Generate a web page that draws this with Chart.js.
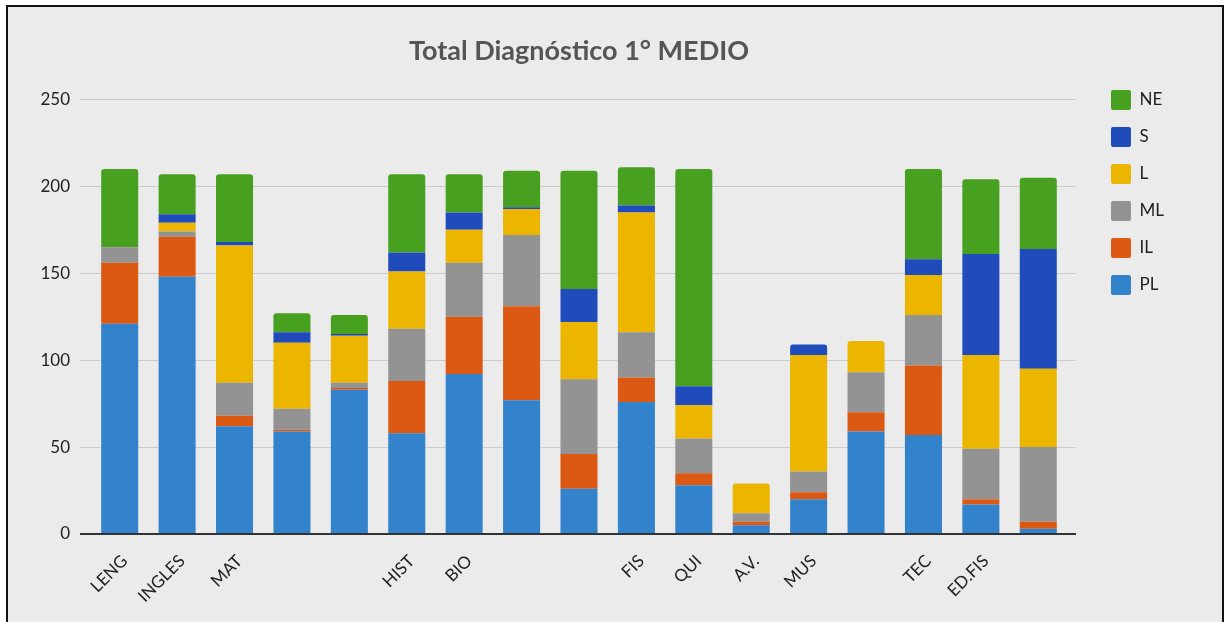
<!DOCTYPE html>
<html>
<head>
<meta charset="utf-8">
<script src="https://cdn.jsdelivr.net/npm/chart.js@4.4.1/dist/chart.umd.min.js"></script>
<style>
  html, body { margin: 0; padding: 0; background: #fff; width: 1225px; height: 622px; overflow: hidden; }
  #frame { position: absolute; left: 6px; top: 5px; width: 1214px; height: 640px;
           border: 2px solid #111; border-bottom: none; background: #ebebeb; }
  #wrap { position: absolute; left: 0; top: 0; width: 1225px; height: 622px; }
</style>
</head>
<body>
<div id="frame"></div>
<div id="wrap"><canvas id="chart"></canvas></div>
<script>
// ── Data ──────────────────────────────────────────────────────────────────────
const categories = ["LENG", "INGLES", "MAT", "", "", "HIST", "BIO", "", "", "FIS", "QUI", "A.V.", "MUS", "", "TEC", "ED.FIS", ""];
const PL = [121, 148, 62, 59, 83, 58, 92, 77, 26, 76, 28, 5, 20, 59, 57, 17, 3];
const IL = [35, 23, 6, 1, 1, 30, 33, 54, 20, 14, 7, 2, 4, 11, 40, 3, 4];
const ML = [9, 3, 19, 12, 3, 30, 31, 41, 43, 26, 20, 5, 12, 23, 29, 29, 43];
const L  = [0, 5, 79, 38, 27, 33, 19, 15, 33, 69, 19, 17, 67, 18, 23, 54, 45];
const S  = [0, 5, 2, 6, 1, 11, 10, 1, 19, 4, 11, 0, 6, 0, 9, 58, 69];
const NE = [45, 23, 39, 11, 11, 45, 22, 21, 68, 22, 125, 0, 0, 0, 52, 43, 41];
const yTicks = [0, 50, 100, 150, 200, 250];

// ── Styles ────────────────────────────────────────────────────────────────────
const FONT = "Lato";
const GRID = "#cccccc";
const BASE = "#333333";
const series = [
  { label: "PL", data: PL, color: "#3382cc" },
  { label: "IL", data: IL, color: "#dc5913" },
  { label: "ML", data: ML, color: "#939393" },
  { label: "L",  data: L,  color: "#ebb500" },
  { label: "S",  data: S,  color: "#204cbb" },
  { label: "NE", data: NE, color: "#48a021" },
];

Chart.defaults.font.family = FONT;

const gridColor = (c) => (c.tick && c.tick.value === 0 ? BASE : GRID);
const gridWidth = (c) => (c.tick && c.tick.value === 0 ? 2 : 1);

new Chart(document.getElementById("chart"), {
  type: "bar",
  data: {
    labels: categories,
    datasets: series.map((s) => ({
      label: s.label, data: s.data, backgroundColor: s.color, borderWidth: 0,
      borderRadius: 3, barPercentage: 0.645, categoryPercentage: 1,
    })),
  },
  options: {
    responsive: true, maintainAspectRatio: false, animation: false,
    layout: { padding: { left: 0, right: 51, top: 0, bottom: 0 } },
    plugins: {
      tooltip: { enabled: false },
      title: {
        display: true, text: "Total Diagnóstico 1° MEDIO", fullSize: false, color: "#555",
        font: { family: FONT, size: 27, weight: "bold" }, padding: { top: 35, bottom: 32 },
      },
      legend: {
        position: "right", align: "start", reverse: true,
        title: { display: true, text: "", padding: { top: 72, bottom: 0 }, font: { size: 1, lineHeight: 1 } },
        labels: {
          boxWidth: 20, boxHeight: 20, padding: 17, color: "#222",
          font: { family: FONT, size: 17 }, useBorderRadius: true, borderRadius: 2,
        },
      },
    },
    scales: {
      x: {
        stacked: true,
        grid: { display: false },
        border: { display: true, color: BASE, width: 2, z: 1 },
        ticks: { color: "#222", font: { family: FONT, size: 17 }, autoSkip: false,
                 minRotation: 45, maxRotation: 45, padding: 9, labelOffset: 5 },
        afterFit: (s) => { s.height = 88; },
      },
      y: {
        stacked: true, min: 0, max: 250,
        afterBuildTicks: (s) => { s.ticks = yTicks.map((v) => ({ value: v })); },
        ticks: { color: "#222", font: { family: FONT, size: 17 }, padding: 10 },
        grid: { color: gridColor, lineWidth: gridWidth, tickLength: 11, drawTicks: true },
        border: { display: false },
        afterFit: (s) => { s.width = 91; },
      },
      y2: {
        position: "right", min: 0, max: 250,
        afterBuildTicks: (s) => { s.ticks = yTicks.map((v) => ({ value: v })); },
        ticks: { display: false },
        grid: { drawOnChartArea: false, color: gridColor, lineWidth: gridWidth, tickLength: 9 },
        border: { display: false },
        afterFit: (s) => { s.width = 27; },
      },
    },
  },
});
</script>
</body>
</html>
